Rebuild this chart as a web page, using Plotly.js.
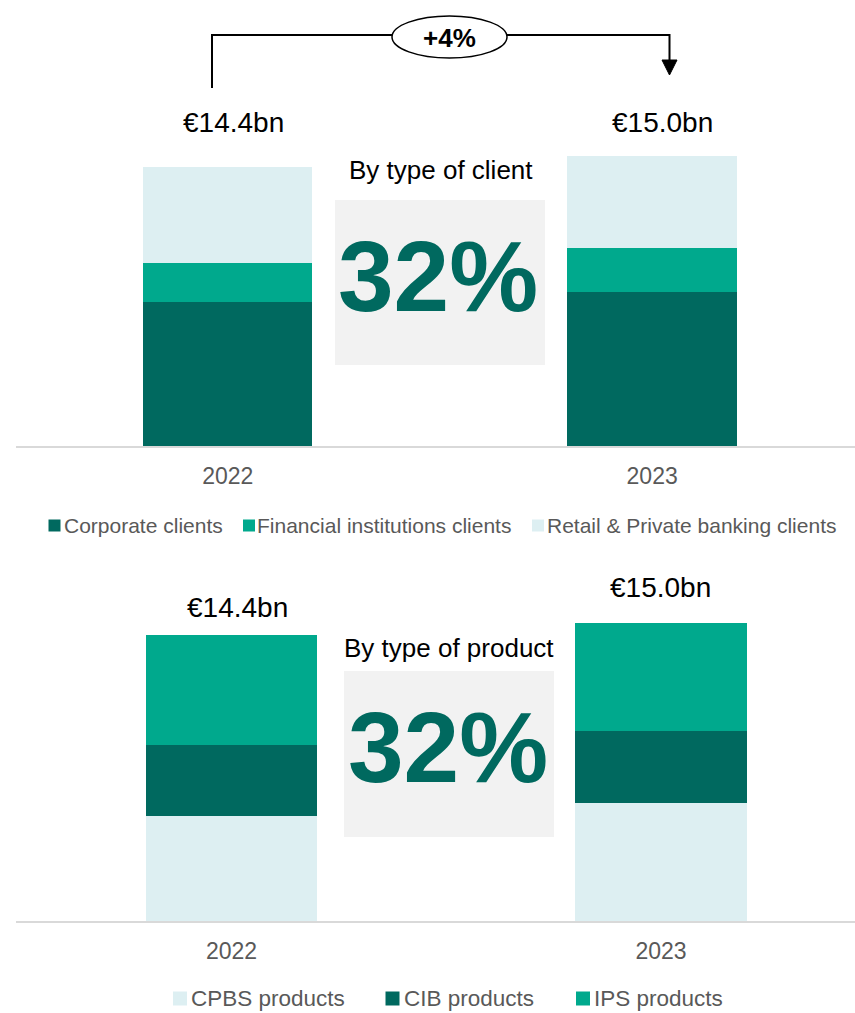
<!DOCTYPE html>
<html>
<head>
<meta charset="utf-8">
<script src="https://cdn.plot.ly/plotly-3.0.1.min.js"></script>
<style>
  html, body { margin: 0; padding: 0; background: #ffffff; }
  #chart { width: 855px; height: 1013px; }
</style>
</head>
<body>
<div id="chart"></div>
<script>
// ---------- data ----------
const years = ['2022', '2023'];
const totals = [14.4, 15.0];

// By type of client (EUR bn)
const clientSeries = ['Corporate clients', 'Financial institutions clients', 'Retail & Private banking clients'];
const corporateClients = [7.43, 7.93];
const financialClients = [2.03, 2.30];
const retailClients = [4.94, 4.77];

// By type of product (EUR bn)
const productSeries = ['CPBS products', 'CIB products', 'IPS products'];
const cpbsProducts = [5.27, 5.96];
const cibProducts = [3.61, 3.60];
const ipsProducts = [5.52, 5.44];

const panelTitles = ['By type of client', 'By type of product'];
const panelShares = ['32%', '32%'];

// ---------- styling ----------
const DARK = '#00695F';
const MID = '#00A98D';
const LIGHT = '#DDEFF2';
const FONT = 'Liberation Sans, Arial, sans-serif';
const W = 855, H = 1013;
const px = x => x / W;
const py = y => 1 - y / H;

const fmtTotal = v => '\u20AC' + v.toFixed(1) + 'bn';
const growth = Math.round((totals[1] / totals[0] - 1) * 100);
const growthLabel = (growth >= 0 ? '+' : '') + growth + '%';

function bar(name, y, color, xa, ya) {
  return {
    type: 'bar', name: name, x: years, y: y,
    xaxis: xa, yaxis: ya,
    width: 0.399,
    marker: { color: color, line: { width: 0 } },
    hoverinfo: 'skip', showlegend: false
  };
}

const traces = [
  bar(clientSeries[0], corporateClients, DARK, 'x', 'y'),
  bar(clientSeries[1], financialClients, MID, 'x', 'y'),
  bar(clientSeries[2], retailClients, LIGHT, 'x', 'y'),
  bar(productSeries[0], cpbsProducts, LIGHT, 'x2', 'y2'),
  bar(productSeries[1], cibProducts, DARK, 'x2', 'y2'),
  bar(productSeries[2], ipsProducts, MID, 'x2', 'y2')
];

const xaxisCommon = {
  type: 'category',
  showline: true, linecolor: '#D9D9D9', linewidth: 2,
  showgrid: false, zeroline: false,
  ticks: '', ticklabelstandoff: 8,
  tickfont: { family: FONT, size: 23, color: '#595959' },
  fixedrange: true
};
const yaxisCommon = {
  showline: false, showgrid: false, zeroline: false,
  showticklabels: false, ticks: '', fixedrange: true
};

const annotations = [];
const shapes = [];

function txt(x, y, text, size, opts) {
  annotations.push(Object.assign({
    xref: 'paper', yref: 'paper', x: px(x), y: py(y),
    text: text, showarrow: false,
    xanchor: 'center', yanchor: 'middle',
    font: { family: FONT, size: size, color: '#000000' }
  }, opts || {}));
}

// totals
txt(233, 122, fmtTotal(totals[0]), 28);
txt(662, 122, fmtTotal(totals[1]), 28);
txt(237.5, 607, fmtTotal(totals[0]), 28);
txt(660, 587, fmtTotal(totals[1]), 28);

// panel boxes
shapes.push({ type: 'rect', xref: 'paper', yref: 'paper', x0: px(335), x1: px(545), y0: py(365), y1: py(200), fillcolor: '#F2F2F2', line: { width: 0 }, layer: 'below' });
shapes.push({ type: 'rect', xref: 'paper', yref: 'paper', x0: px(344), x1: px(554), y0: py(837), y1: py(671), fillcolor: '#F2F2F2', line: { width: 0 }, layer: 'below' });

txt(440.5, 170, panelTitles[0], 26);
txt(449, 648, panelTitles[1], 26);
txt(438, 276, '<b>' + panelShares[0] + '</b>', 100, { font: { family: FONT, size: 100, color: DARK } });
txt(448, 747, '<b>' + panelShares[1] + '</b>', 100, { font: { family: FONT, size: 100, color: DARK } });

// growth bracket
shapes.push({
  type: 'path', xref: 'paper', yref: 'paper',
  path: 'M' + px(212) + ',' + py(88) + ' L' + px(212) + ',' + py(35) + ' L' + px(669.5) + ',' + py(35) + ' L' + px(669.5) + ',' + py(62),
  line: { color: '#000000', width: 2 }
});
shapes.push({
  type: 'path', xref: 'paper', yref: 'paper',
  path: 'M' + px(662) + ',' + py(60) + ' L' + px(677) + ',' + py(60) + ' L' + px(669.5) + ',' + py(75) + ' Z',
  fillcolor: '#000000', line: { color: '#000000', width: 1 }
});
shapes.push({
  type: 'circle', xref: 'paper', yref: 'paper',
  x0: px(392), x1: px(507), y0: py(58), y1: py(16),
  fillcolor: '#FFFFFF', line: { color: '#000000', width: 1.5 }
});
txt(449, 38, '<b>' + growthLabel + '</b>', 26);

// legends (manual)
function legendItem(sx, sy, size, color, tx, label, fs) {
  shapes.push({ type: 'rect', xref: 'paper', yref: 'paper',
    x0: px(sx), x1: px(sx + size), y0: py(sy + size), y1: py(sy),
    fillcolor: color, line: { width: 0 } });
  txt(tx, sy + size / 2, label, fs, { xanchor: 'left', borderpad: 0, font: { family: FONT, size: fs, color: '#595959' } });
}
legendItem(48.5, 519.5, 12, DARK, 63, clientSeries[0], 21);
legendItem(243, 519.5, 12, MID, 256, clientSeries[1], 21);
legendItem(532, 519.5, 12, LIGHT, 546, clientSeries[2], 21);
legendItem(173, 991.5, 14, LIGHT, 190, productSeries[0], 22.5);
legendItem(385.5, 991.5, 14, DARK, 403, productSeries[1], 22.5);
legendItem(576, 991.5, 14, MID, 593, productSeries[2], 22.5);

const layout = {
  width: W, height: H,
  margin: { l: 0, r: 0, t: 0, b: 0, pad: 0 },
  paper_bgcolor: '#FFFFFF', plot_bgcolor: 'rgba(0,0,0,0)',
  barmode: 'stack', showlegend: false,
  font: { family: FONT, color: '#000000' },
  xaxis: Object.assign({}, xaxisCommon, { domain: [px(16), 1], range: [-0.499, 1.478], anchor: 'y' }),
  yaxis: Object.assign({}, yaxisCommon, { domain: [py(446), py(100)], range: [0, 346 / 19.36], anchor: 'x' }),
  xaxis2: Object.assign({}, xaxisCommon, { domain: [px(16), 1], range: [-0.5017, 1.4517], anchor: 'y2' }),
  yaxis2: Object.assign({}, yaxisCommon, { domain: [py(921), py(580)], range: [0, 341 / 19.84], anchor: 'x2' }),
  shapes: shapes,
  annotations: annotations
};

Plotly.newPlot('chart', traces, layout, { displayModeBar: false, staticPlot: true });
</script>
</body>
</html>
